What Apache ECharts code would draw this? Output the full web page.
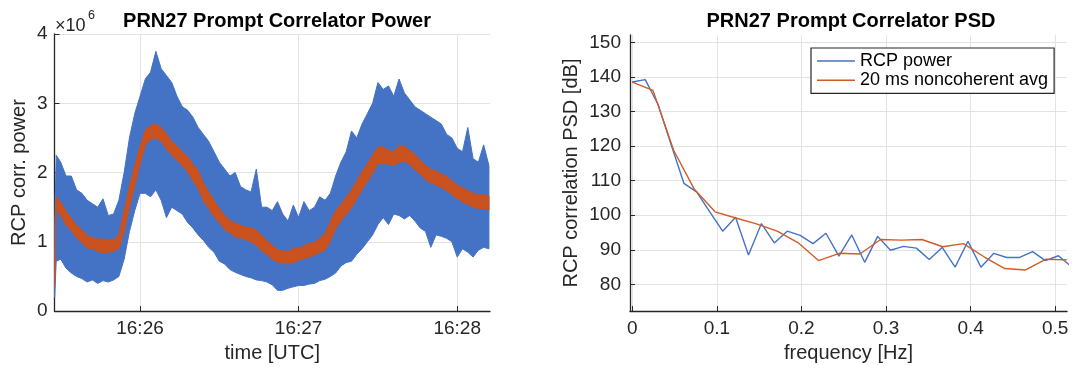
<!DOCTYPE html>
<html><head><meta charset="utf-8">
<script src="https://cdn.jsdelivr.net/npm/echarts@6/dist/echarts.min.js"></script>
<style>html,body{margin:0;padding:0;background:#fff}#c{width:1073px;height:368px}</style>
</head><body><div id="c"></div>
<script>
// ---- Left panel: time in seconds after 16:25:00, power in units of 1e6 ----
const timeSec = [27.7, 28.3, 30, 32, 34, 36, 38, 40, 42, 44, 46, 48, 50, 52, 54, 56, 58, 60, 62, 64, 66, 68, 70, 72, 74, 76, 78, 80, 82, 84, 86, 88, 90, 92, 94, 96, 98, 100, 102, 104, 106, 108, 110, 112, 114, 116, 118, 120, 122, 124, 126, 128, 130, 132, 134, 136, 138, 140, 142, 144, 146, 148, 150, 152, 154, 156, 158, 160, 162, 164, 166, 168, 170, 172, 174, 176, 178, 180, 182, 184, 186, 188, 190, 192];
const blueHi = [1.2, 2.25, 2.15, 1.95, 1.95, 1.75, 1.7, 1.6, 1.55, 1.5, 1.62, 1.38, 1.4, 1.6, 2.0, 2.5, 2.85, 3.1, 3.35, 3.45, 3.75, 3.5, 3.4, 3.3, 3.1, 2.95, 2.9, 2.8, 2.65, 2.55, 2.45, 2.3, 2.15, 2.05, 1.95, 2.0, 1.8, 1.75, 1.72, 2.05, 1.5, 1.5, 1.45, 1.58, 1.4, 1.3, 1.53, 1.35, 1.58, 1.45, 1.5, 1.65, 1.6, 1.7, 1.95, 2.15, 2.3, 2.6, 2.5, 2.7, 2.85, 3.0, 3.3, 3.2, 3.25, 3.1, 3.35, 3.15, 3.05, 2.95, 2.9, 2.85, 2.8, 2.75, 2.7, 2.55, 2.5, 2.35, 2.3, 2.65, 2.2, 2.15, 2.4, 2.1];
const blueLo = [0.2, 0.72, 0.75, 0.62, 0.55, 0.5, 0.47, 0.42, 0.45, 0.4, 0.44, 0.42, 0.45, 0.5, 0.75, 1.15, 1.45, 1.7, 1.7, 1.65, 1.75, 1.6, 1.35, 1.5, 1.45, 1.4, 1.28, 1.2, 1.1, 1.02, 0.92, 0.85, 0.72, 0.68, 0.6, 0.56, 0.53, 0.5, 0.48, 0.45, 0.44, 0.42, 0.38, 0.3, 0.3, 0.33, 0.35, 0.37, 0.37, 0.39, 0.4, 0.44, 0.46, 0.5, 0.55, 0.65, 0.7, 0.72, 0.82, 0.9, 1.0, 1.1, 1.25, 1.35, 1.25, 1.4, 1.38, 1.33, 1.38, 1.3, 1.2, 1.15, 0.92, 1.1, 1.08, 1.05, 1.0, 0.78, 0.9, 0.85, 0.78, 0.88, 0.92, 0.9];
const orangeMid = [0.4, 1.55, 1.48, 1.34, 1.25, 1.15, 1.08, 1.0, 0.98, 0.95, 0.94, 0.93, 0.95, 1.0, 1.3, 1.65, 1.95, 2.25, 2.5, 2.58, 2.6, 2.55, 2.45, 2.35, 2.28, 2.2, 2.12, 2.0, 1.9, 1.72, 1.6, 1.48, 1.38, 1.28, 1.22, 1.17, 1.15, 1.12, 1.1, 1.06, 0.98, 0.92, 0.85, 0.8, 0.78, 0.77, 0.8, 0.82, 0.85, 0.88, 0.9, 0.95, 1.0, 1.15, 1.32, 1.42, 1.52, 1.62, 1.75, 1.88, 2.0, 2.12, 2.25, 2.25, 2.22, 2.2, 2.27, 2.27, 2.22, 2.15, 2.08, 2.0, 1.95, 1.92, 1.88, 1.84, 1.78, 1.72, 1.68, 1.64, 1.6, 1.58, 1.58, 1.56];
const orangeHalf = [0.05, 0.1, 0.09, 0.1, 0.09, 0.09, 0.09, 0.09, 0.08, 0.09, 0.1, 0.09, 0.08, 0.1, 0.15, 0.15, 0.15, 0.13, 0.11, 0.1, 0.1, 0.1, 0.11, 0.1, 0.1, 0.1, 0.11, 0.12, 0.13, 0.13, 0.12, 0.12, 0.1, 0.1, 0.09, 0.1, 0.09, 0.09, 0.1, 0.11, 0.11, 0.1, 0.1, 0.09, 0.09, 0.09, 0.1, 0.09, 0.09, 0.1, 0.09, 0.1, 0.12, 0.14, 0.13, 0.12, 0.12, 0.13, 0.13, 0.13, 0.13, 0.13, 0.12, 0.12, 0.1, 0.1, 0.12, 0.11, 0.1, 0.11, 0.1, 0.1, 0.1, 0.1, 0.1, 0.1, 0.1, 0.1, 0.1, 0.1, 0.1, 0.1, 0.1, 0.1];
const timeTickSec = [60, 120, 180];
const timeTickLabels = ['16:26', '16:27', '16:28'];

// ---- Right panel: PSD ----
const freqBlue = [0, 0.0153, 0.0305, 0.0458, 0.0611, 0.0763, 0.0916, 0.1069, 0.1221, 0.1374, 0.1527, 0.1679, 0.1832, 0.1985, 0.2137, 0.2290, 0.2443, 0.2595, 0.2748, 0.2901, 0.3053, 0.3206, 0.3359, 0.3511, 0.3664, 0.3817, 0.3969, 0.4122, 0.4275, 0.4427, 0.4580, 0.4733, 0.4885, 0.5038, 0.5191];
const psdBlue = [138.5, 139.2, 132, 120.5, 109.2, 106.7, 101.0, 95.4, 99.4, 88.5, 97.6, 92.0, 95.4, 94.2, 91.8, 94.8, 88.2, 94.3, 86.4, 93.9, 89.9, 91.0, 90.5, 87.2, 90.7, 85.0, 92.5, 85.0, 89.0, 87.8, 87.8, 89.5, 86.9, 88.3, 85.2];
const freqOrange = [0, 0.0245, 0.0489, 0.0734, 0.0979, 0.1223, 0.1468, 0.1713, 0.1957, 0.2202, 0.2447, 0.2691, 0.2936, 0.3181, 0.3425, 0.3670, 0.3915, 0.4159, 0.4404, 0.4649, 0.4893, 0.5138];
const psdOrange = [138.5, 136.1, 118.8, 107.5, 101.0, 99.2, 97.5, 95.4, 92.1, 86.9, 89.0, 88.8, 93.0, 92.8, 93.0, 90.9, 91.8, 88.0, 84.6, 84.2, 87.3, 87.1];
const freqTicks = [0, 0.1, 0.2, 0.3, 0.4, 0.5];
const psdTicks = [80, 90, 100, 110, 120, 130, 140, 150];

const BLUE = '#4472C4', ORANGE_L = '#C9521F', ORANGE_R = '#D35B25';
const FONT = '"Liberation Sans", Arial, Helvetica, sans-serif';
const AX = '#262626', GRID = '#e3e3e3';

const pair = (xs, ys) => xs.map((x, i) => [x, ys[i]]);
const orangeHi = orangeMid.map((m, i) => m + orangeHalf[i]);
const orangeLo = orangeMid.map((m, i) => m - orangeHalf[i]);

// band between lo and hi, drawn through the axis scales (api.coord)
function bandSeries(hi, lo, color, z) {
  return {
    type: 'custom', xAxisIndex: 0, yAxisIndex: 0, silent: true, clip: true, z: z,
    data: [[timeSec[0], hi[0]]],
    renderItem: (params, api) => {
      const top = timeSec.map((t, i) => api.coord([t, hi[i]]));
      const bot = timeSec.map((t, i) => api.coord([t, lo[i]])).reverse();
      return {type: 'polygon', shape: {points: top.concat(bot)},
              style: {fill: color, stroke: color, lineWidth: 1, lineJoin: 'miter'}};
    }
  };
}

const axLine = {show: true, onZero: false, lineStyle: {color: AX, width: 1.3}};
const split = {show: true, lineStyle: {color: GRID, width: 1}};
const nameStyle = {fontSize: 20, color: AX, fontFamily: FONT};
const lblStyle = {fontSize: 19, color: AX, fontFamily: FONT};

const chart = echarts.init(document.getElementById('c'), null, {renderer: 'canvas'});
chart.setOption({
  animation: false,
  backgroundColor: '#fff',
  textStyle: {fontFamily: FONT},
  title: [
    {text: 'PRN27 Prompt Correlator Power', left: 272, top: 6, textAlign: 'center',
     textStyle: {fontSize: 20, fontWeight: 'bold', color: '#000', fontFamily: FONT}},
    {text: 'PRN27 Prompt Correlator PSD', left: 846, top: 6, textAlign: 'center',
     textStyle: {fontSize: 20, fontWeight: 'bold', color: '#000', fontFamily: FONT}}
  ],
  graphic: [
    {type: 'text', left: 55, top: 17, style: {text: '×10', fontSize: 18, fill: AX, fontFamily: FONT}},
    {type: 'text', left: 88, top: 9, style: {text: '6', fontSize: 12.5, fill: AX, fontFamily: FONT}}
  ],
  legend: {
    data: [{name: 'RCP power', icon: 'rect'}, {name: '20 ms noncoherent avg', icon: 'rect'}],
    orient: 'vertical', left: 811, top: 48,
    itemWidth: 38, itemHeight: 1.5, itemGap: 1.3,
    padding: [4, 6, 4, 6],
    borderColor: AX, borderWidth: 1.2, backgroundColor: '#fff',
    textStyle: {fontSize: 18, color: '#000', fontFamily: FONT, lineHeight: 18}
  },
  grid: [
    {left: 54.5, right: 583, top: 34, bottom: 54},
    {left: 630, right: 6, top: 35, bottom: 54}
  ],
  xAxis: [
    {gridIndex: 0, type: 'value', min: 27.65, max: 192.4,
     axisLine: axLine,
     axisTick: {show: true, inside: true, length: 5, customValues: timeTickSec, lineStyle: {color: AX, width: 1}},
     axisLabel: {customValues: timeTickSec, formatter: v => timeTickLabels[timeTickSec.indexOf(v)], margin: 8, ...lblStyle},
     splitLine: split,
     name: 'time [UTC]', nameLocation: 'middle', nameGap: 31, nameTextStyle: nameStyle},
    {gridIndex: 1, type: 'value', min: -0.0027, max: 0.514,
     axisLine: axLine,
     axisTick: {show: true, inside: true, length: 5, customValues: freqTicks, lineStyle: {color: AX, width: 1}},
     axisLabel: {customValues: freqTicks, formatter: v => String(v), margin: 8, ...lblStyle},
     splitLine: split,
     name: 'frequency [Hz]', nameLocation: 'middle', nameGap: 31, nameTextStyle: nameStyle}
  ],
  yAxis: [
    {gridIndex: 0, type: 'value', min: 0, max: 4, interval: 1,
     axisLine: axLine,
     axisTick: {show: true, inside: true, length: 5, lineStyle: {color: AX, width: 1}},
     axisLabel: {margin: 7, formatter: v => String(v), ...lblStyle},
     splitLine: split,
     name: 'RCP corr. power', nameLocation: 'middle', nameGap: 25, nameTextStyle: nameStyle},
    {gridIndex: 1, type: 'value', min: 72.3, max: 152.1,
     axisLine: axLine,
     axisTick: {show: true, inside: true, length: 5, customValues: psdTicks, lineStyle: {color: AX, width: 1}},
     axisLabel: {customValues: psdTicks, formatter: v => String(v), margin: 9, ...lblStyle},
     splitLine: split,
     name: 'RCP correlation PSD [dB]', nameLocation: 'middle', nameGap: 49, nameTextStyle: nameStyle}
  ],
  series: [
    bandSeries(blueHi, blueLo, BLUE, 2),
    bandSeries(orangeHi, orangeLo, ORANGE_L, 3),
    {name: 'RCP power', type: 'line', xAxisIndex: 1, yAxisIndex: 1, symbol: 'none',
     data: pair(freqBlue, psdBlue), lineStyle: {color: BLUE, width: 1.4}, itemStyle: {color: BLUE}},
    {name: '20 ms noncoherent avg', type: 'line', xAxisIndex: 1, yAxisIndex: 1, symbol: 'none',
     data: pair(freqOrange, psdOrange), lineStyle: {color: ORANGE_R, width: 1.4}, itemStyle: {color: ORANGE_R}}
  ]
});
</script>
</body></html>
